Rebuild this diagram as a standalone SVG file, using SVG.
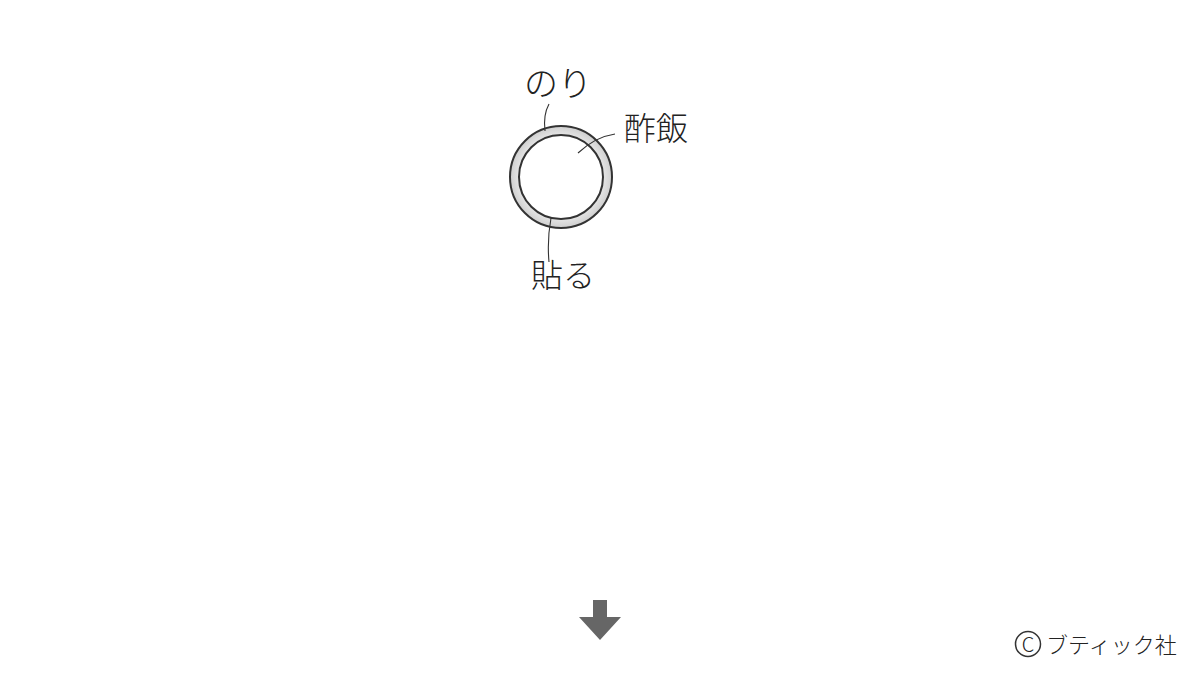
<svg xmlns="http://www.w3.org/2000/svg" width="1200" height="675" viewBox="0 0 1200 675">
<style>
.t{font-family:"Noto Sans CJK JP","Liberation Sans",sans-serif;fill:#222;font-weight:300}
.l{fill:none;stroke:#333;stroke-width:1.1}
</style>
<defs>
<radialGradient id="ring" cx="0.5" cy="0.5" r="0.5">
<stop offset="0.8" stop-color="#e8e8e8"/>
<stop offset="1" stop-color="#cfcfcf"/>
</radialGradient>
</defs>
<rect width="1200" height="675" fill="#fff"/>
<g id="sushi">
<circle cx="561" cy="177" r="51" fill="url(#ring)" stroke="#333" stroke-width="2"/>
<circle cx="561" cy="177" r="42" fill="#fff" stroke="#333" stroke-width="2"/>
</g>
<g id="connectors">
<path class="l" d="M545 131 Q543 115 549 104"/>
<path class="l" d="M578 153 Q595 137 615 134"/>
<path class="l" d="M551 218 Q547 240 549 262"/>
</g>
<g id="label-nori"><text class="t" x="524" y="96" font-size="34">のり</text></g>
<g id="label-sumeshi"><text class="t" x="624" y="140" font-size="32">酢飯</text></g>
<g id="label-haru"><text class="t" x="531" y="287" font-size="32">貼る</text></g>
<g id="arrow"><path d="M593 600 H607 V617 H621 L600 640 L579 617 H593 Z" fill="#666"/></g>
<g id="copyright">
<circle cx="1028" cy="644" r="12.5" fill="none" stroke="#333" stroke-width="1.5"/>
<text class="t" x="1028" y="651.5" font-size="20" text-anchor="middle">C</text>
<text class="t" x="1046" y="653" font-size="22">ブティック社</text>
</g>
</svg>
